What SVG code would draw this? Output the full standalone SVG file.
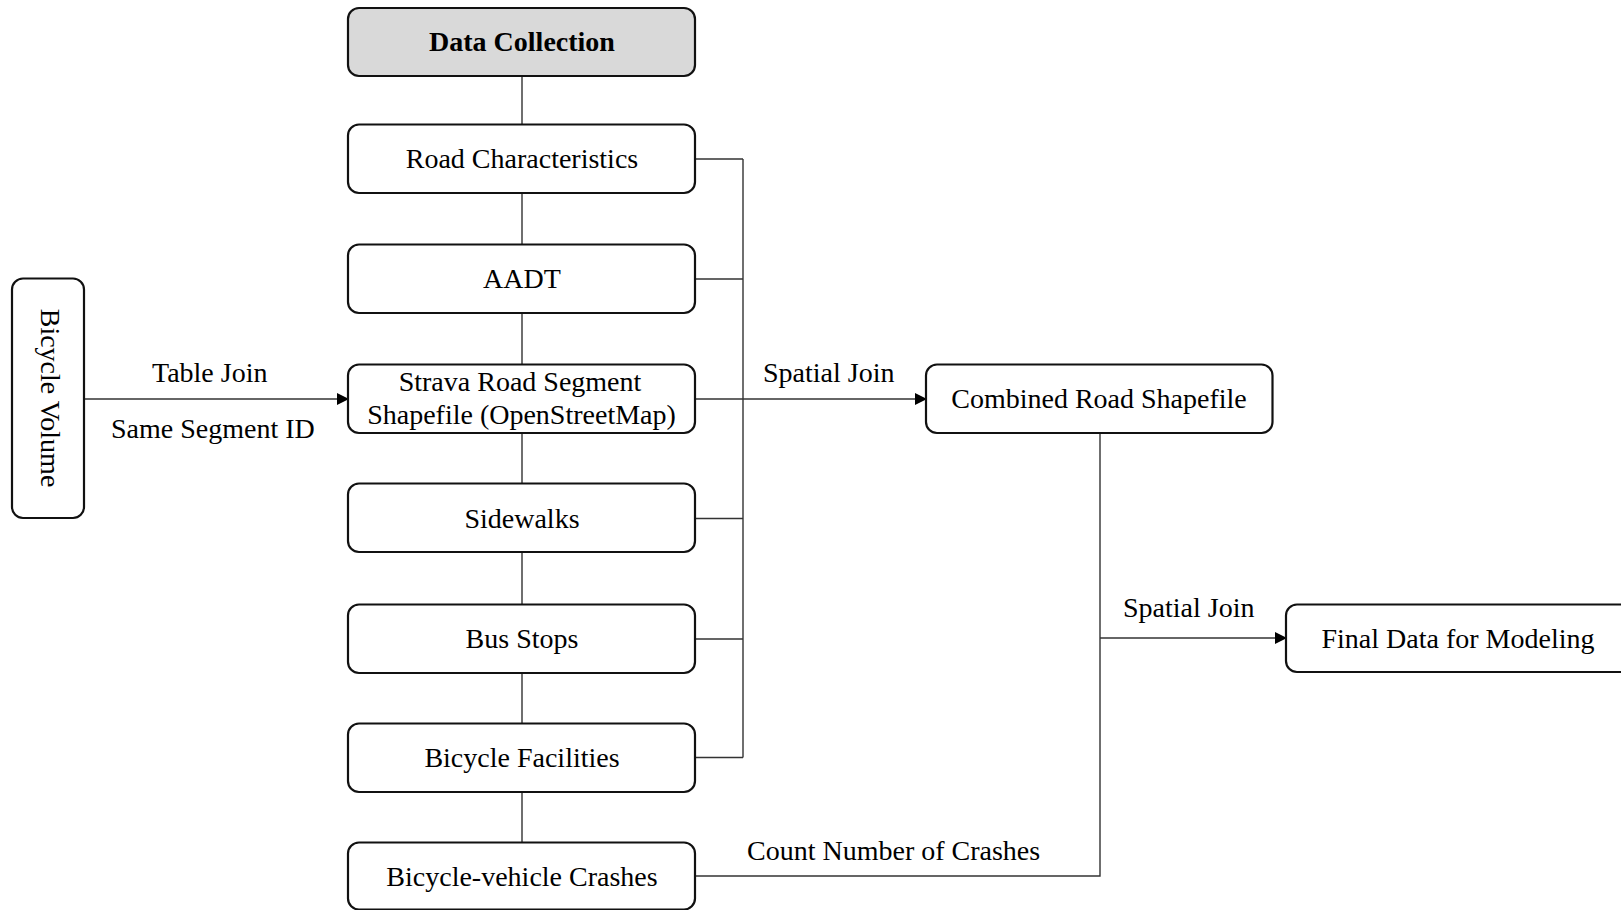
<svg xmlns="http://www.w3.org/2000/svg" width="1621" height="910" viewBox="0 0 1621 910">
<defs>
<style>
.box{fill:#fff;stroke:#111;stroke-width:2.2}
.hdr{fill:#d9d9d9;stroke:#111;stroke-width:2.2}
.t{font-family:"Liberation Serif","Times New Roman",serif;font-size:28px;fill:#000;text-anchor:middle}
.b{font-weight:bold}
.l{font-family:"Liberation Serif","Times New Roman",serif;font-size:28px;fill:#000}
.c{fill:none;stroke:#333;stroke-width:1.4}
</style>
<marker id="ah" markerWidth="12" markerHeight="12" refX="11" refY="6" orient="auto" markerUnits="userSpaceOnUse">
<path d="M0,0 L12,6 L0,12 Z" fill="#000"/>
</marker>
</defs>
<rect width="1621" height="910" fill="#fff"/>
<g id="connectors">
<path class="c" d="M522,76 V124 M522,193 V244 M522,313 V364 M522,433 V483 M522,552 V604 M522,673 V723 M522,792 V842"/>
<path class="c" d="M695,159 H743 M695,279 H743 M695,518.5 H743 M695,639 H743 M695,757.5 H743 M743,159 V757.5 M695,399 H743"/>
<path class="c" d="M743,399 H926" marker-end="url(#ah)"/>
<path class="c" d="M84,399 H348" marker-end="url(#ah)"/>
<path class="c" d="M1100,433 V876 H695"/>
<path class="c" d="M1100,638 H1286" marker-end="url(#ah)"/>
<text class="l" x="152" y="382">Table Join</text>
<text class="l" x="111" y="438">Same Segment ID</text>
<text class="l" x="763" y="382">Spatial Join</text>
<text class="l" x="1123" y="617">Spatial Join</text>
<text class="l" x="747" y="860">Count Number of Crashes</text>
</g>
<g id="data-collection"><rect class="hdr" x="348" y="8" width="347" height="68" rx="11"/><text class="t b" x="522" y="51">Data Collection</text></g>
<g id="road-characteristics"><rect class="box" x="348" y="124.5" width="347" height="68.5" rx="11"/><text class="t" x="522" y="168">Road Characteristics</text></g>
<g id="aadt"><rect class="box" x="348" y="244.5" width="347" height="68.5" rx="11"/><text class="t" x="522" y="288">AADT</text></g>
<g id="strava"><rect class="box" x="348" y="364.5" width="347" height="68.5" rx="11"/><text class="t" x="520" y="391">Strava Road Segment</text><text class="t" x="521.5" y="424">Shapefile (OpenStreetMap)</text></g>
<g id="sidewalks"><rect class="box" x="348" y="483.5" width="347" height="68.5" rx="11"/><text class="t" x="522" y="528">Sidewalks</text></g>
<g id="bus-stops"><rect class="box" x="348" y="604.5" width="347" height="68.5" rx="11"/><text class="t" x="522" y="648">Bus Stops</text></g>
<g id="bicycle-facilities"><rect class="box" x="348" y="723.5" width="347" height="68.5" rx="11"/><text class="t" x="522" y="767">Bicycle Facilities</text></g>
<g id="crashes"><rect class="box" x="348" y="842.5" width="347" height="67" rx="11"/><text class="t" x="522" y="886">Bicycle-vehicle Crashes</text></g>
<g id="bicycle-volume"><rect class="box" x="12" y="278.5" width="72" height="239.5" rx="11"/><text class="t" transform="translate(48,398) rotate(90)" x="0" y="7">Bicycle Volume</text></g>
<g id="combined"><rect class="box" x="926" y="364.5" width="346.5" height="68.5" rx="11"/><text class="t" x="1099" y="408">Combined Road Shapefile</text></g>
<g id="final"><rect class="box" x="1286" y="604.5" width="350" height="67.5" rx="11"/><text class="t" x="1458" y="648">Final Data for Modeling</text></g>
</svg>
